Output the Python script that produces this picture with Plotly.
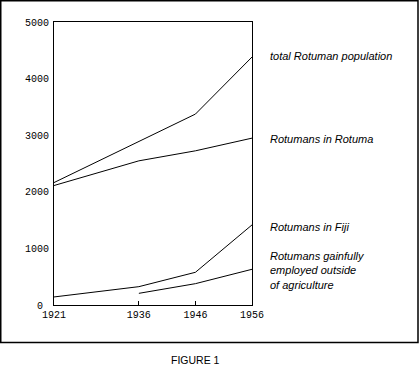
import plotly.graph_objects as go

years_total = [1921, 1936, 1946, 1956]
total_pop = [2163, 2896, 3373, 4381]
years_rotuma = [1921, 1936, 1946, 1956]
rotuma_pop = [2111, 2547, 2724, 2948]
years_fiji = [1921, 1936, 1946, 1956]
fiji_pop = [142, 324, 578, 1415]
years_employed = [1936, 1946, 1956]
employed_pop = [206, 377, 631]

x_ticks = [1921, 1936, 1946, 1956]
y_ticks = [0, 1000, 2000, 3000, 4000, 5000]
y_ticktext = ["0\u00a0", "1000", "2000", "3000", "4000", "5000"]

series_labels = ["total Rotuman population", "Rotumans in Rotuma", "Rotumans in Fiji",
                 "Rotumans gainfully<br>employed outside<br>of agriculture"]
label_values = [4405, 2937, 1380, 601]
caption = "FIGURE 1"

W, H = 419, 377
L, R, T, B = 54, 419 - 252, 22, 377 - 305
pw, ph = W - L - R, H - T - B

fig = go.Figure()
line = dict(color="black", width=1)
for xs, ys in [(years_total, total_pop), (years_rotuma, rotuma_pop),
               (years_fiji, fiji_pop), (years_employed, employed_pop)]:
    fig.add_trace(go.Scatter(x=xs, y=ys, mode="lines", line=line, showlegend=False,
                             hoverinfo="skip"))

for txt, yv in zip(series_labels, label_values):
    fig.add_annotation(x=(268 - L) / pw, xref="paper", y=yv, yref="y", text=txt,
                       showarrow=False, xanchor="left", yanchor="middle", align="left",
                       font=dict(family="Liberation Sans", size=11, color="black",
                                 style="italic"))

fig.add_annotation(x=(195 - L) / pw, xref="paper", y=(H - 360 - B) / ph, yref="paper",
                   text=caption, showarrow=False, xanchor="center", yanchor="middle",
                   font=dict(family="Liberation Sans", size=10.5, color="black"))

# outer frame
fig.add_shape(type="rect", xref="paper", yref="paper",
              x0=(0.75 - L) / pw, x1=(418 - L) / pw,
              y0=(305 - 342.5) / ph, y1=(305 - 0.75) / ph,
              line=dict(color="black", width=1.5), fillcolor="rgba(0,0,0,0)")

tickfont = dict(family="Liberation Mono", size=10, color="black")
fig.update_xaxes(range=[1921, 1956], tickvals=x_ticks, ticktext=[str(v) for v in x_ticks],
                 ticks="inside", ticklen=4, tickcolor="black", tickwidth=1,
                 showline=True, linecolor="black", linewidth=1, mirror=True,
                 showgrid=False, zeroline=False, tickfont=tickfont)
fig.update_yaxes(range=[0, 5000], tickvals=y_ticks, ticktext=y_ticktext, ticks="",
                 showline=True, linecolor="black", linewidth=1, mirror=True,
                 showgrid=False, zeroline=False, tickfont=tickfont, ticklabelstandoff=2)

fig.update_layout(width=W, height=H, margin=dict(l=L, r=R, t=T, b=B, pad=0),
                  paper_bgcolor="white", plot_bgcolor="white")

fig.write_html("out.html", config={"displayModeBar": False},
               post_script="document.body.style.margin='0px';"
                           "document.body.style.overflow='hidden';")
